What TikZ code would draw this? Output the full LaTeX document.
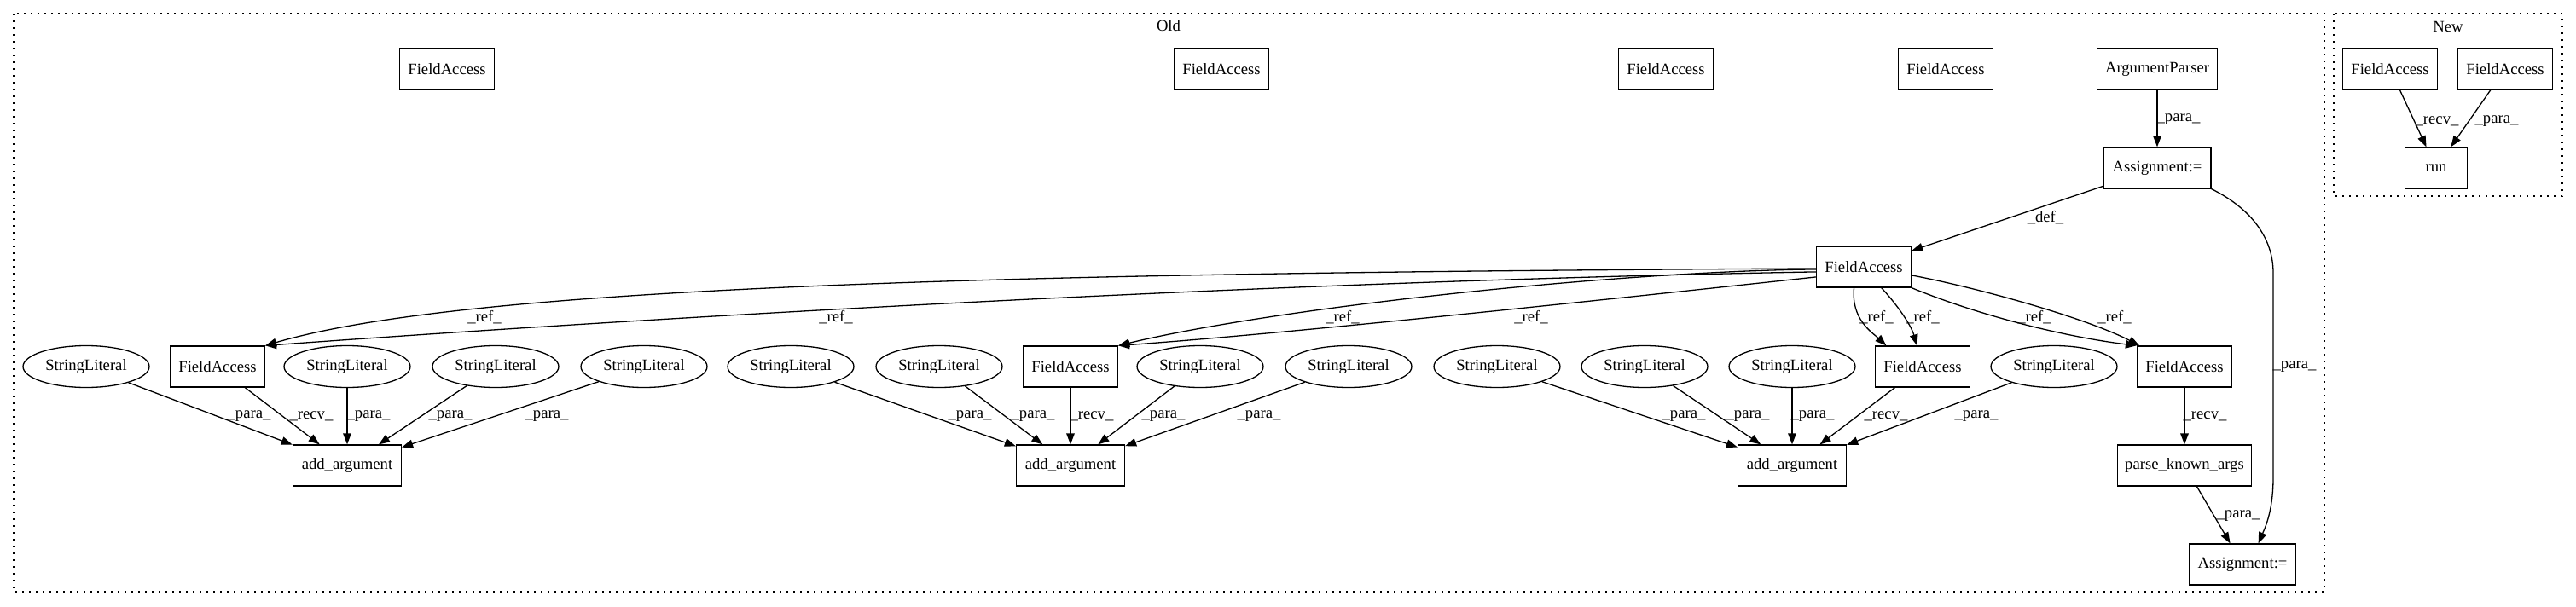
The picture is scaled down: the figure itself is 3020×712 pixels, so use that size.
\documentclass[tikz,border=0pt]{standalone}
\usepackage{fontspec}
\setmainfont{Liberation Serif}
\usetikzlibrary{shapes.geometric,arrows.meta}
\begin{document}
\begin{tikzpicture}[x=0.5pt,y=-0.5pt,
  every node/.style={font=\fontsize{9.33}{11}\selectfont},
  box/.style={draw,rectangle,inner sep=0pt,minimum height=24pt,line width=0.65pt},
  fa/.style={box,minimum width=55.5pt},
  lit/.style={draw,ellipse,inner sep=0pt,minimum width=74pt,minimum height=24.5pt,line width=0.65pt},
  edge/.style={line width=0.65pt,-{Triangle[length=6.5pt,width=4.8pt]}},
  lbl/.style={inner sep=0pt},
  cluster/.style={line width=0.65pt,dash pattern=on 1pt off 3pt}
]
\useasboundingbox (0,0) rectangle (3020,712);
% clusters
\draw[cluster] (16,16) rectangle (2725,694);
\node (oldlbl) at (1370,30) {Old};
\draw[cluster] (2736,16) rectangle (3004,230);
\node (newlbl) at (2870,31) {New};
% top row
\node[fa] (t1) at (524,81) {FieldAccess};
\node[fa] (t2) at (1432,81) {FieldAccess};
\node[fa] (t3) at (1953,81) {FieldAccess};
\node[fa] (t4) at (2281,81) {FieldAccess};
\node[box,minimum width=70.5pt] (argp) at (2529,81) {ArgumentParser};
\node[box,minimum width=63pt] (asg1) at (2529,197) {Assignment:=};
\node[fa] (hub) at (2185,313) {FieldAccess};
% row 4
\node[lit] (s1) at (101,430) {StringLiteral};
\node[fa] (f1) at (255,430) {FieldAccess};
\node[lit] (s2) at (407,430) {StringLiteral};
\node[lit] (s3) at (581,430) {StringLiteral};
\node[lit] (s4) at (755,430) {StringLiteral};
\node[lit] (s5) at (927,430) {StringLiteral};
\node[lit] (s6) at (1101,430) {StringLiteral};
\node[fa] (f2) at (1255,430) {FieldAccess};
\node[lit] (s7) at (1407,430) {StringLiteral};
\node[lit] (s8) at (1581,430) {StringLiteral};
\node[lit] (s9) at (1755,430) {StringLiteral};
\node[lit] (s10) at (1928,430) {StringLiteral};
\node[lit] (s11) at (2101,430) {StringLiteral};
\node[fa] (f3) at (2254,430) {FieldAccess};
\node[lit] (s12) at (2408,430) {StringLiteral};
\node[fa] (f4) at (2561,430) {FieldAccess};
% row 5
\node[box,minimum width=63.5pt] (a1) at (407,546) {add\_argument};
\node[box,minimum width=63.5pt] (a2) at (1255,546) {add\_argument};
\node[box,minimum width=63.5pt] (a3) at (2101,546) {add\_argument};
\node[box,minimum width=78.5pt] (pka) at (2561,546) {parse\_known\_args};
\node[box,minimum width=62.5pt] (asg2) at (2629,662) {Assignment:=};
% new cluster
\node[fa] (n1) at (2802,81) {FieldAccess};
\node[fa] (n2) at (2937,81) {FieldAccess};
\node[box,minimum width=36.5pt] (run) at (2856,197) {run};
% edges
\draw[edge] (argp) -- (asg1) node[lbl] at (2554,140) {\_para\_};
\draw[edge] (asg1) -- (hub) node[lbl] at (2398,255) {\_def\_};
\draw[edge] (asg1.south east) .. controls (2640,245) and (2665,280) .. (2665,320) -- (2665,560) .. controls (2665,600) and (2655,620) .. (asg2.53);
\node[lbl] (lasg) at (2690,430) {\_para\_};
\draw[edge] (hub.182) .. controls (1200,320) and (550,335) .. (f1.north east) node[lbl] at (568,372) {\_ref\_};
\draw[edge] (hub.186) .. controls (1500,330) and (800,370) .. (f1.north east) node[lbl] at (980,372) {\_ref\_};
\draw[edge] (hub.183) .. controls (1900,318) and (1500,360) .. (f2.north east) node[lbl] at (1574,372) {\_ref\_};
\draw[edge] (hub.192) .. controls (1850,355) and (1500,392) .. (f2.north east) node[lbl] at (1795,372) {\_ref\_};
\draw[edge] (hub.245) .. controls (2170,375) and (2195,390) .. (f3.150) node[lbl] at (2200,372) {\_ref\_};
\draw[edge] (hub.310) .. controls (2222,355) and (2240,380) .. (f3.105) node[lbl] at (2254,372) {\_ref\_};
\draw[edge] (hub.south east) .. controls (2320,370) and (2420,395) .. (f4.north west) node[lbl] at (2385,372) {\_ref\_};
\draw[edge] (hub.350) .. controls (2330,340) and (2450,375) .. (f4.155) node[lbl] at (2479,372) {\_ref\_};
% add_argument edges
\draw[edge] (s1) -- (a1) node[lbl] at (292,488) {\_para\_};
\draw[edge] (f1) -- (a1) node[lbl] at (365,488) {\_recv\_};
\draw[edge] (s2) -- (a1) node[lbl] at (432,488) {\_para\_};
\draw[edge] (s3) -- (a1) node[lbl] at (528,488) {\_para\_};
\draw[edge] (s4) -- (a1) node[lbl] at (641,488) {\_para\_};
\draw[edge] (s5) -- (a2) node[lbl] at (1137,488) {\_para\_};
\draw[edge] (s6) -- (a2) node[lbl] at (1211,488) {\_para\_};
\draw[edge] (f2) -- (a2) node[lbl] at (1280,488) {\_recv\_};
\draw[edge] (s7) -- (a2) node[lbl] at (1364,488) {\_para\_};
\draw[edge] (s8) -- (a2) node[lbl] at (1476,488) {\_para\_};
\draw[edge] (s9) -- (a3) node[lbl] at (1974,488) {\_para\_};
\draw[edge] (s10) -- (a3) node[lbl] at (2049,488) {\_para\_};
\draw[edge] (s11) -- (a3) node[lbl] at (2125,488) {\_para\_};
\draw[edge] (f3) -- (a3) node[lbl] at (2211,488) {\_recv\_};
\draw[edge] (s12) -- (a3) node[lbl] at (2317,488) {\_para\_};
\draw[edge] (f4) -- (pka) node[lbl] at (2585,488) {\_recv\_};
\draw[edge] (pka) -- (asg2) node[lbl] at (2624,605) {\_para\_};
\draw[edge] (n1) -- (run) node[lbl] at (2857,142) {\_recv\_};
\draw[edge] (n2) -- (run) node[lbl] at (2927,142) {\_para\_};
\end{tikzpicture}
\end{document}
